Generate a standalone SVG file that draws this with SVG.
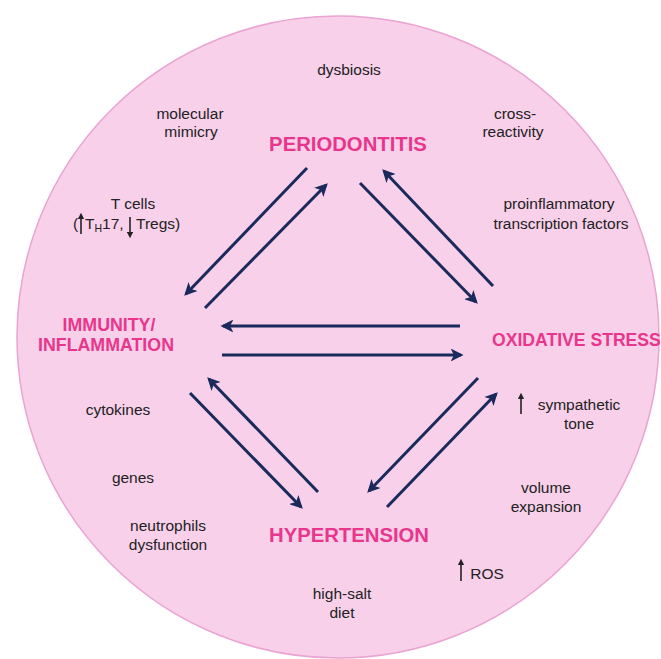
<svg xmlns="http://www.w3.org/2000/svg" width="661" height="659" viewBox="0 0 661 659">
<defs>
<marker id="ah" viewBox="0 0 10 10" refX="8" refY="5" markerWidth="4.3" markerHeight="4.3" orient="auto" markerUnits="strokeWidth">
<path d="M0,0 L10,5 L0,10 L2.5,5 z" fill="#1b2a5c"/>
</marker>
<marker id="sh" viewBox="0 0 10 10" refX="5" refY="5" markerWidth="6.5" markerHeight="6.5" orient="auto" markerUnits="userSpaceOnUse">
<path d="M0,0 L10,5 L0,10 z" fill="#222"/>
</marker>
</defs>
<style>
.t{font-family:"Liberation Sans",Arial,sans-serif;font-size:15.5px;fill:#222;text-anchor:middle}
.h{font-family:"Liberation Sans",Arial,sans-serif;font-weight:bold;fill:#e8368c;text-anchor:middle}
.c{stroke:#1b2a5c;stroke-width:3;fill:none;marker-end:url(#ah)}
.s{stroke:#222;stroke-width:1.6;fill:none;marker-end:url(#sh)}
</style>
<rect width="661" height="659" fill="#ffffff"/>
<circle cx="338" cy="337" r="321" fill="#f8d0ea" stroke="#eaa3d2" stroke-width="1.5"/>
<g id="connectors">
<line class="c" x1="307" y1="168" x2="186" y2="294"/>
<line class="c" x1="205" y1="308" x2="326" y2="185"/>
<line class="c" x1="360" y1="183" x2="476" y2="302"/>
<line class="c" x1="493" y1="286" x2="384" y2="171"/>
<line class="c" x1="460" y1="326" x2="223" y2="326"/>
<line class="c" x1="222" y1="355" x2="461" y2="355"/>
<line class="c" x1="318" y1="492" x2="209" y2="379"/>
<line class="c" x1="190" y1="393" x2="301" y2="507"/>
<line class="c" x1="478" y1="378" x2="369" y2="491"/>
<line class="c" x1="387" y1="507" x2="496" y2="394"/>
</g>
<g id="periodontitis"><text class="h" x="348" y="151" font-size="20.3">PERIODONTITIS</text></g>
<g id="immunity"><text class="h" x="109" y="331" font-size="17.8">IMMUNITY/</text><text class="h" x="106" y="351" font-size="17.8">INFLAMMATION</text></g>
<g id="oxidative"><text class="h" x="492" y="346" font-size="17.6" style="text-anchor:start">OXIDATIVE STRESS</text></g>
<g id="hypertension"><text class="h" x="349" y="542" font-size="20.3">HYPERTENSION</text></g>
<g id="labels">
<text class="t" x="349" y="75">dysbiosis</text>
<text class="t" x="190" y="119">molecular</text>
<text class="t" x="191" y="137">mimicry</text>
<text class="t" x="515" y="119">cross-</text>
<text class="t" x="513" y="137">reactivity</text>
<text class="t" x="133" y="209">T cells</text>
<text class="t" style="text-anchor:start" y="229"><tspan x="73">(</tspan><tspan x="85">T</tspan><tspan font-size="10.5" dy="3">H</tspan><tspan dy="-3">17,</tspan><tspan x="136">Tregs)</tspan></text>
<text class="t" x="559" y="209">proinflammatory</text>
<text class="t" x="561" y="229">transcription factors</text>
<text class="t" x="118" y="415">cytokines</text>
<text class="t" x="133" y="483">genes</text>
<text class="t" x="168" y="531">neutrophils</text>
<text class="t" x="168" y="550">dysfunction</text>
<text class="t" x="579" y="410">sympathetic</text>
<text class="t" x="579" y="429">tone</text>
<text class="t" x="546" y="493">volume</text>
<text class="t" x="546" y="512">expansion</text>
<text class="t" x="487" y="579">ROS</text>
<text class="t" x="342" y="599">high-salt</text>
<text class="t" x="342" y="618">diet</text>
<line class="s" x1="81" y1="234" x2="81" y2="216"/>
<line class="s" x1="130" y1="217" x2="130" y2="235"/>
<line class="s" x1="521" y1="414" x2="521" y2="396"/>
<line class="s" x1="461" y1="581" x2="461" y2="562"/>
</g>
</svg>
